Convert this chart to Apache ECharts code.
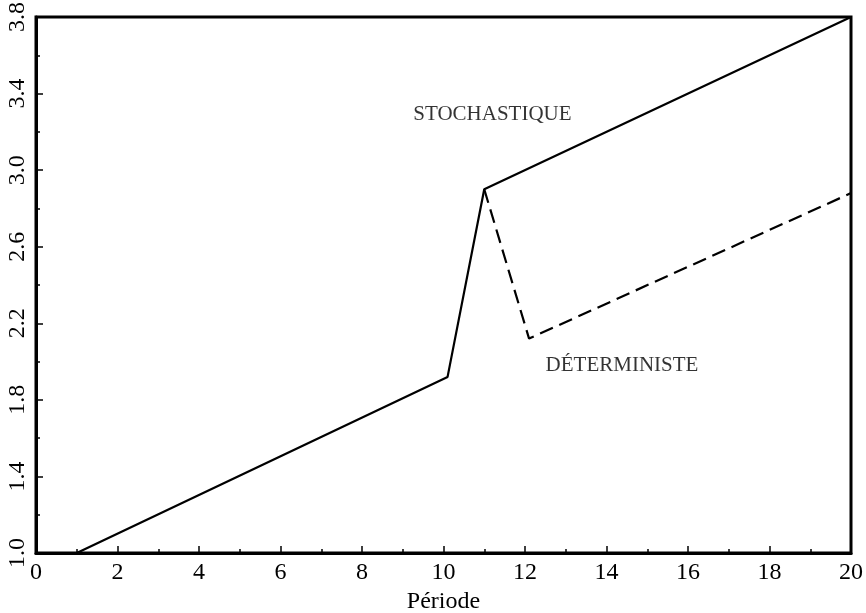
<!DOCTYPE html>
<html>
<head>
<meta charset="utf-8">
<script src="https://cdn.jsdelivr.net/npm/echarts@6/dist/echarts.min.js"></script>
<style>html,body{margin:0;padding:0;background:#fff}#c{width:866px;height:613px}</style>
</head>
<body>
<div id="c"></div>
<script>
const xTicks = [0, 2, 4, 6, 8, 10, 12, 14, 16, 18, 20];
const yTicks = [1.0, 1.4, 1.8, 2.2, 2.6, 3.0, 3.4, 3.8];
const stochX = [1, 10.1, 11, 20];
const stochY = [1.0, 1.92, 2.9, 3.8];
const detX = [11, 12.1, 20];
const detY = [2.9, 2.12, 2.88];
const labelNames = ['STOCHASTIQUE', 'DÉTERMINISTE'];
const labelX = [11.2, 14.38];
const labelY = [3.29, 1.98];

const font = 'Liberation Serif';
const chart = echarts.init(document.getElementById('c'), null, {renderer: 'canvas'});
chart.setOption({
  animation: false,
  backgroundColor: '#fff',
  textStyle: {fontFamily: font, color: '#000'},
  grid: {left: 36, right: 15, top: 17, bottom: 60, show: true, borderColor: '#000', borderWidth: 3,
    backgroundColor: 'transparent', containLabel: false, outerBoundsMode: 'none'},
  xAxis: {
    type: 'value', min: xTicks[0], max: xTicks[xTicks.length - 1], interval: 2,
    name: 'Période', nameLocation: 'middle', nameGap: 32,
    nameTextStyle: {fontFamily: font, fontSize: 24, color: '#000'},
    axisLine: {show: true, lineStyle: {color: '#000', width: 3}},
    axisTick: {show: true, inside: true, length: 7, lineStyle: {color: '#000', width: 1.5}},
    minorTick: {show: true, splitNumber: 2, length: 4, lineStyle: {color: '#000', width: 1.5}},
    splitLine: {show: false},
    axisLabel: {fontFamily: font, fontSize: 24, color: '#000', margin: 8}
  },
  yAxis: {
    type: 'value', min: yTicks[0], max: yTicks[yTicks.length - 1], interval: 0.4,
    axisLine: {show: true, lineStyle: {color: '#000', width: 3}},
    axisTick: {show: true, inside: true, length: 7, lineStyle: {color: '#000', width: 1.5}},
    minorTick: {show: true, splitNumber: 2, length: 4, lineStyle: {color: '#000', width: 1.5}},
    splitLine: {show: false},
    axisLabel: {fontFamily: font, fontSize: 24, color: '#000', rotate: 90, margin: 6,
      formatter: v => v.toFixed(1)}
  },
  series: [
    {type: 'line', data: stochX.map((x, i) => [x, stochY[i]]), symbol: 'none',
      lineStyle: {color: '#000', width: 2.2}, z: 3},
    {type: 'line', data: detX.map((x, i) => [x, detY[i]]), symbol: 'none',
      lineStyle: {color: '#000', width: 2.2, type: [14, 7]}, z: 3},
    {type: 'scatter', data: labelNames.map((n, i) => ({name: n, value: [labelX[i], labelY[i]]})),
      symbolSize: 0, silent: true,
      label: {show: true, position: 'inside', formatter: p => p.name,
        fontFamily: font, fontSize: 21, color: '#000'}}
  ]
});
</script>
</body>
</html>
